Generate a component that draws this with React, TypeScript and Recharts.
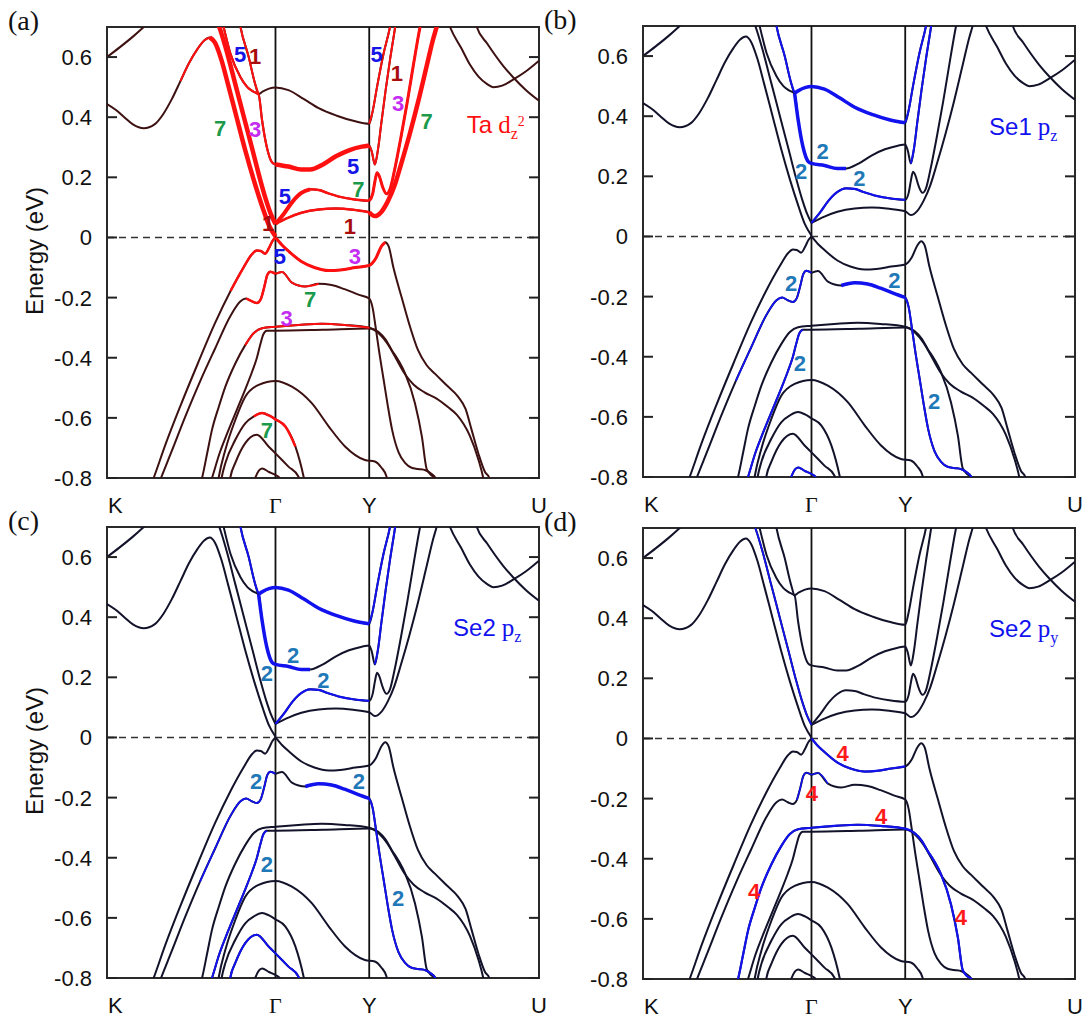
import React from "react";
import { LineChart, Line, XAxis, YAxis, ReferenceLine, ReferenceArea, ReferenceDot } from "recharts";

type Pt = [number, number];

// k-path positions of the high-symmetry points (K = 0, U = 1)
const GAMMA = 0.39;
const YPT = 0.607;
const kTicks = [0, GAMMA, YPT, 1];
const kLabels = ["K", "Γ", "Y", "U"];
const eTicks = [-0.8, -0.6, -0.4, -0.2, 0, 0.2, 0.4, 0.6];

// band lines, [k, energy in eV]
const U1: Pt[] = [[0, 0.6], [0.03, 0.633], [0.06, 0.668], [0.085, 0.7], [0.1, 0.72]];
const PK: Pt[] = [[0, 0.444], [0.02, 0.425], [0.04, 0.4], [0.06, 0.376], [0.085, 0.363], [0.11, 0.376], [0.13, 0.41], [0.15, 0.46], [0.17, 0.52], [0.19, 0.58], [0.21, 0.628], [0.225, 0.655], [0.238, 0.665], [0.25, 0.648], [0.265, 0.59], [0.28, 0.51], [0.3, 0.4], [0.32, 0.29], [0.34, 0.19], [0.36, 0.1], [0.375, 0.04], [0.39, 0.003]];
const L2: Pt[] = [[0.252, 0.73], [0.26, 0.7], [0.277, 0.62], [0.297, 0.51], [0.317, 0.4], [0.337, 0.29], [0.355, 0.19], [0.368, 0.125], [0.38, 0.075], [0.39, 0.045]];
const L2R: Pt[] = [[0.39, 0.045], [0.41, 0.08], [0.43, 0.12], [0.45, 0.148], [0.47, 0.16], [0.49, 0.158], [0.51, 0.148], [0.54, 0.135], [0.57, 0.127], [0.607, 0.122], [0.615, 0.145], [0.62, 0.185], [0.625, 0.215], [0.63, 0.205], [0.638, 0.168], [0.647, 0.145], [0.655, 0.16], [0.665, 0.22], [0.68, 0.33], [0.695, 0.45], [0.71, 0.58], [0.722, 0.68], [0.73, 0.74]];
const V1R: Pt[] = [[0.39, 0.045], [0.42, 0.066], [0.45, 0.082], [0.49, 0.093], [0.53, 0.096], [0.57, 0.092], [0.607, 0.084], [0.62, 0.071], [0.635, 0.085], [0.65, 0.12], [0.665, 0.17], [0.68, 0.24], [0.7, 0.34], [0.72, 0.45], [0.74, 0.57], [0.755, 0.66], [0.763, 0.7], [0.77, 0.74]];
const BK: Pt[] = [[0.262, 0.75], [0.27, 0.7], [0.286, 0.61], [0.309, 0.533], [0.325, 0.5], [0.338, 0.486], [0.351, 0.475], [0.359, 0.389], [0.37, 0.3], [0.382, 0.25], [0.39, 0.243], [0.42, 0.236], [0.45, 0.226], [0.47, 0.226], [0.5, 0.243], [0.53, 0.27], [0.56, 0.29], [0.59, 0.302], [0.607, 0.306], [0.613, 0.285], [0.62, 0.243], [0.627, 0.29], [0.635, 0.38], [0.645, 0.49], [0.655, 0.59], [0.667, 0.7], [0.672, 0.75]];
const BT: Pt[] = [[0.303, 0.75], [0.309, 0.7], [0.328, 0.6], [0.343, 0.51], [0.351, 0.477], [0.36, 0.485], [0.375, 0.495], [0.39, 0.499], [0.42, 0.49], [0.455, 0.461], [0.49, 0.43], [0.532, 0.405], [0.57, 0.388], [0.607, 0.378], [0.615, 0.42], [0.625, 0.5], [0.64, 0.61], [0.655, 0.7], [0.66, 0.74]];
const RU1: Pt[] = [[0.78, 0.76], [0.794, 0.7], [0.82, 0.63], [0.84, 0.575], [0.86, 0.535], [0.88, 0.51], [0.894, 0.5], [0.915, 0.505], [0.94, 0.525], [0.97, 0.553], [1, 0.588]];
const RU2: Pt[] = [[0.845, 0.76], [0.856, 0.7], [0.88, 0.645], [0.917, 0.571], [0.94, 0.533], [0.97, 0.49], [1, 0.455]];
const V1L: Pt[] = [[0.1, -0.83], [0.108, -0.8], [0.135, -0.69], [0.17, -0.56], [0.21, -0.42], [0.25, -0.285], [0.286, -0.178], [0.316, -0.1], [0.336, -0.055], [0.347, -0.043], [0.356, -0.045], [0.366, -0.054], [0.375, -0.035], [0.383, -0.012], [0.39, 0]];
const V2L: Pt[] = [[0.117, -0.83], [0.125, -0.8], [0.15, -0.71], [0.18, -0.6], [0.215, -0.48], [0.25, -0.37], [0.286, -0.26], [0.309, -0.212], [0.322, -0.203], [0.335, -0.212], [0.347, -0.218], [0.356, -0.205], [0.364, -0.165], [0.371, -0.125], [0.378, -0.114], [0.39, -0.121]];
const R1: Pt[] = [[0.39, 0], [0.405, -0.025], [0.42, -0.045], [0.45, -0.08], [0.48, -0.1], [0.513, -0.11], [0.54, -0.108], [0.575, -0.1], [0.607, -0.093], [0.622, -0.07], [0.635, -0.03], [0.644, -0.016], [0.652, -0.03], [0.663, -0.1], [0.682, -0.199], [0.7, -0.29], [0.72, -0.375], [0.74, -0.425], [0.759, -0.453], [0.785, -0.49], [0.813, -0.53], [0.83, -0.57], [0.844, -0.64], [0.86, -0.72], [0.875, -0.78], [0.885, -0.8], [0.89, -0.83]];
const R2: Pt[] = [[0.39, -0.121], [0.405, -0.115], [0.428, -0.15], [0.459, -0.163], [0.49, -0.154], [0.52, -0.158], [0.55, -0.172], [0.582, -0.19], [0.607, -0.203], [0.615, -0.235], [0.622, -0.3], [0.63, -0.38], [0.64, -0.47], [0.65, -0.56], [0.66, -0.64], [0.675, -0.715], [0.69, -0.75], [0.705, -0.766], [0.72, -0.77], [0.737, -0.774], [0.75, -0.785], [0.76, -0.8], [0.765, -0.82]];
const VB3: Pt[] = [[0.214, -0.83], [0.22, -0.8], [0.232, -0.717], [0.243, -0.64], [0.259, -0.562], [0.274, -0.496], [0.297, -0.419], [0.32, -0.358], [0.34, -0.318], [0.359, -0.302], [0.39, -0.297], [0.45, -0.29], [0.497, -0.287], [0.55, -0.291], [0.607, -0.3], [0.628, -0.314], [0.645, -0.34], [0.659, -0.374], [0.675, -0.41], [0.69, -0.452], [0.713, -0.552], [0.729, -0.663], [0.74, -0.77], [0.75, -0.79], [0.76, -0.8], [0.765, -0.82]];
const VB4: Pt[] = [[0.236, -0.83], [0.243, -0.8], [0.26, -0.72], [0.28, -0.645], [0.3, -0.575], [0.32, -0.505], [0.335, -0.45], [0.347, -0.4], [0.355, -0.355], [0.362, -0.322], [0.37, -0.31], [0.39, -0.31], [0.5, -0.307], [0.607, -0.303], [0.63, -0.32], [0.65, -0.355], [0.67, -0.405], [0.69, -0.455], [0.71, -0.49], [0.735, -0.515], [0.763, -0.536], [0.79, -0.565], [0.81, -0.59], [0.84, -0.66], [0.86, -0.74], [0.871, -0.8], [0.875, -0.83]];
const V5: Pt[] = [[0.255, -0.83], [0.259, -0.795], [0.274, -0.706], [0.297, -0.607], [0.32, -0.53], [0.351, -0.49], [0.39, -0.477], [0.428, -0.496], [0.474, -0.551], [0.513, -0.628], [0.551, -0.695], [0.597, -0.74], [0.62, -0.745], [0.635, -0.765], [0.647, -0.795], [0.65, -0.83]];
const V6: Pt[] = [[0.262, -0.83], [0.266, -0.795], [0.274, -0.75], [0.297, -0.673], [0.32, -0.618], [0.34, -0.595], [0.359, -0.584], [0.375, -0.592], [0.39, -0.605], [0.413, -0.629], [0.436, -0.695], [0.455, -0.795], [0.46, -0.83]];
const V7: Pt[] = [[0.282, -0.83], [0.286, -0.795], [0.297, -0.75], [0.32, -0.684], [0.347, -0.656], [0.374, -0.695], [0.39, -0.718], [0.42, -0.762], [0.443, -0.795], [0.45, -0.83]];
const V8: Pt[] = [[0.338, -0.83], [0.343, -0.8], [0.359, -0.768], [0.375, -0.78], [0.39, -0.79], [0.4, -0.8], [0.41, -0.83]];

const BANDS: Record<string, Pt[]> = { U1, PK, L2, L2R, V1R, BK, BT, RU1, RU2, V1L, V2L, R1, R2, VB3, VB4, V5, V6, V7, V8 };

const RED = "#ff1010";
const BLUE = "#1212ee";
const C5 = "#1515e8";
const C1 = "#a80c0c";
const C7 = "#1a9a4a";
const C3 = "#c42cf2";
const C2 = "#1f78b8";
const C4 = "#ff1a1a";

// highlighted (projected) parts: band, from k, to k, colour, width
type Hl = [string, number, number, string, number];
const HL_A: Hl[] = [
  ["PK", 0.17, 0.238, RED, 2], ["PK", 0.238, 0.4, RED, 4.5], ["L2", 0, 1, RED, 4.5],
  ["BT", 0, 0.352, RED, 2], ["BT", 0.607, 1, RED, 2],
  ["BK", 0, 0.39, RED, 2.2], ["BK", 0.39, 0.607, RED, 4.5], ["BK", 0.607, 1, RED, 2],
  ["L2R", 0.39, 0.47, RED, 4], ["L2R", 0.47, 0.607, RED, 2.5], ["L2R", 0.607, 1, RED, 3],
  ["V1R", 0.39, 0.607, RED, 2.5], ["V1R", 0.607, 1, RED, 4.5],
  ["V1L", 0.286, 0.4, RED, 2.5], ["V2L", 0.32, 0.4, RED, 2.5],
  ["R1", 0.39, 0.645, RED, 3], ["R2", 0.39, 0.49, RED, 2],
  ["VB3", 0.3, 0.607, RED, 2], ["V6", 0.34, 0.44, RED, 2.5],
];
const HL_B: Hl[] = [
  ["BT", 0, 0.352, BLUE, 2], ["BT", 0.351, 0.607, BLUE, 3.5], ["BT", 0.607, 1, BLUE, 2],
  ["BK", 0.351, 0.47, BLUE, 3.5], ["BK", 0.62, 1, BLUE, 2],
  ["L2R", 0.39, 0.607, BLUE, 2.2], ["V2L", 0.2, 0.4, BLUE, 1.8],
  ["R2", 0.459, 0.607, BLUE, 3.5], ["R2", 0.607, 1, BLUE, 2],
  ["VB4", 0, 0.37, BLUE, 2], ["V8", 0, 1, BLUE, 2],
];
const HL_C: Hl[] = [
  ["BT", 0, 0.352, BLUE, 2], ["BT", 0.351, 0.607, BLUE, 3.5], ["BT", 0.607, 1, BLUE, 2],
  ["BK", 0.351, 0.47, BLUE, 3.5], ["BK", 0.62, 1, BLUE, 2],
  ["L2R", 0.39, 0.607, BLUE, 2.2], ["V2L", 0.2, 0.4, BLUE, 1.8],
  ["R2", 0.459, 0.607, BLUE, 3.5], ["R2", 0.607, 1, BLUE, 2],
  ["VB4", 0, 0.37, BLUE, 2], ["V7", 0, 1, BLUE, 2],
];
const HL_D: Hl[] = [
  ["L2", 0, 1, BLUE, 1.8], ["R1", 0.39, 0.607, BLUE, 2.2], ["VB3", 0, 1, BLUE, 2.2],
  ["V2L", 0.35, 0.4, BLUE, 1.6], ["R2", 0.39, 0.43, BLUE, 1.6],
];

// band labels: k, energy, text, colour
type Lb = [number, number, string, string];
const LB_A: Lb[] = [
  [0.308, 0.608, "5", C5], [0.343, 0.603, "1", C1], [0.262, 0.364, "7", C7], [0.343, 0.359, "3", C3],
  [0.412, 0.137, "5", C5], [0.373, 0.049, "1", C1], [0.4, -0.062, "5", C5],
  [0.624, 0.608, "5", C5], [0.671, 0.547, "1", C1], [0.674, 0.447, "3", C3], [0.74, 0.387, "7", C7],
  [0.57, 0.237, "5", C5], [0.582, 0.16, "7", C7], [0.562, 0.038, "1", C1], [0.574, -0.062, "3", C3],
  [0.47, -0.206, "7", C7], [0.416, -0.267, "3", C3], [0.37, -0.64, "7", C7],
];
const LB_B: Lb[] = [
  [0.416, 0.283, "2", C2], [0.366, 0.217, "2", C2], [0.501, 0.195, "2", C2], [0.343, -0.154, "2", C2],
  [0.582, -0.145, "2", C2], [0.363, -0.42, "2", C2], [0.674, -0.547, "2", C2],
];
const LB_C: Lb[] = [
  [0.431, 0.275, "2", C2], [0.37, 0.214, "2", C2], [0.501, 0.192, "2", C2], [0.345, -0.146, "2", C2],
  [0.583, -0.144, "2", C2], [0.37, -0.423, "2", C2], [0.674, -0.534, "2", C2],
];
const LB_D: Lb[] = [
  [0.462, -0.048, "4", C4], [0.391, -0.181, "4", C4], [0.551, -0.258, "4", C4],
  [0.257, -0.507, "4", C4], [0.736, -0.596, "4", C4],
];

const SANS = "'Liberation Sans', Arial, sans-serif";
const SERIF = "'Liberation Serif', 'Times New Roman', serif";
const PW = 432;
const PH = 451;

const toRows = (pts: Pt[]) => pts.map(([k, e]) => ({ k, e }));

const ETick = (p: any) => {
  const v = p.payload.value;
  return (
    <g>
      <text x={p.x - 15} y={p.y + 8} textAnchor="end" fontSize={22} fontFamily={SANS} fill="#111">
        {v === 0 ? "0" : v.toFixed(1)}
      </text>
      <line x1={p.x} x2={p.x + 10} y1={p.y} y2={p.y} stroke="#222" strokeWidth={2} />
      <line x1={p.x + PW - 10} x2={p.x + PW} y1={p.y} y2={p.y} stroke="#222" strokeWidth={2} />
    </g>
  );
};

const KTick = (p: any) => {
  const i = kTicks.indexOf(p.payload.value);
  const lab = kLabels[i] ?? "";
  return (
    <text x={p.x + (i === 0 ? 1 : 0)} y={p.y + 35} textAnchor={i === 0 ? "start" : "middle"}
      fontSize={22} fontFamily={lab === "Γ" ? SERIF : SANS} fill="#111">
      {lab}
    </text>
  );
};

const orbLabel = (head: string, orb: string, sub: string, sup: string, color: string) => (props: any) => {
  const { x, y } = props.viewBox;
  return (
    <text x={x} y={y} fill={color} fontSize={24} fontFamily={SANS}>
      {head}
      <tspan dx={6} fontFamily={SERIF} fontSize={25}>{orb}</tspan>
      <tspan dy={6} fontFamily={SERIF} fontSize={16}>{sub}</tspan>
      {sup ? <tspan dy={-13} fontFamily={SERIF} fontSize={14}>{sup}</tspan> : null}
    </text>
  );
};

type PanelProps = {
  left: number; top: number; base: string; hl: Hl[]; labels: Lb[];
  orb: [string, string, string, string, string]; tag: string; title: boolean;
};

function Panel({ left, top, base, hl, labels, orb, tag, title }: PanelProps) {
  const names = Object.keys(BANDS);
  return (
    <>
      <div style={{ position: "absolute", left: left - 99, top: top - 22, fontFamily: SERIF, fontSize: 28, color: "#111" }}>{tag}</div>
      {title && (
        <div style={{ position: "absolute", left: left - 72 - 70, top: top + 210, width: 140, textAlign: "center",
          transform: "rotate(-90deg)", fontFamily: SANS, fontSize: 24, color: "#111" }}>
          Energy (eV)
        </div>
      )}
      <div style={{ position: "absolute", left: left - 100, top: top - 10 }}>
        <LineChart width={100 + PW + 12} height={10 + PH + 45} margin={{ top: 10, right: 12, bottom: 0, left: 0 }}>
          <XAxis type="number" dataKey="k" domain={[0, 1]} ticks={kTicks} interval={0} allowDataOverflow
            tick={<KTick />} tickLine={false} axisLine={false} tickSize={0} tickMargin={0} height={45} />
          <YAxis type="number" domain={[-0.8, 0.7]} ticks={eTicks} interval={0} allowDataOverflow
            tick={<ETick />} tickLine={false} axisLine={false} tickSize={0} tickMargin={0} width={100} />
          <ReferenceLine x={GAMMA} stroke="#111" strokeWidth={1.8} />
          <ReferenceLine x={YPT} stroke="#111" strokeWidth={1.8} />
          <ReferenceLine y={0} stroke="#333" strokeWidth={1.4} strokeDasharray="7 5" />
          {names.map((n) => (
            <Line key={"b" + n} data={toRows(BANDS[n])} dataKey="e" type="monotone" stroke={base}
              strokeWidth={2} dot={false} activeDot={false} isAnimationActive={false} />
          ))}
          {hl.map(([n, a, b, c, w], i) => (
            <Line key={"h" + i} data={toRows(BANDS[n].filter(([k]) => k >= a && k <= b))} dataKey="e"
              type="monotone" stroke={c} strokeWidth={w} dot={false} activeDot={false} isAnimationActive={false} />
          ))}
          <ReferenceArea x1={0} x2={1} y1={-0.8} y2={0.7} fill="none" stroke="#2a2a2a" strokeWidth={2} />
          {labels.map(([k, e, t, c], i) => (
            <ReferenceDot key={"l" + i} x={k} y={e} r={0} fill="none" stroke="none"
              label={{ value: t, fill: c, fontSize: 22, fontWeight: 700, fontFamily: SANS, position: "center" }} />
          ))}
          <ReferenceDot x={orb[0] === "Ta" ? 0.833 : 0.801} y={orb[0] === "Ta" ? 0.349 : 0.336} r={0}
            fill="none" stroke="none" label={orbLabel(orb[0], orb[1], orb[2], orb[3], orb[4])} />
        </LineChart>
      </div>
    </>
  );
}

export default function App() {
  return (
    <div style={{ position: "absolute", left: 0, top: 0, width: 1089, height: 1023, background: "#fff", overflow: "hidden" }}>
      <Panel left={107} top={27} base="#3d1111" hl={HL_A} labels={LB_A} orb={["Ta", "d", "z", "2", RED]} tag="(a)" title />
      <Panel left={643} top={26} base="#12122a" hl={HL_B} labels={LB_B} orb={["Se1", "p", "z", "", BLUE]} tag="(b)" title={false} />
      <Panel left={107} top={527} base="#12122a" hl={HL_C} labels={LB_C} orb={["Se2", "p", "z", "", BLUE]} tag="(c)" title />
      <Panel left={643} top={528} base="#12122a" hl={HL_D} labels={LB_D} orb={["Se2", "p", "y", "", BLUE]} tag="(d)" title={false} />
    </div>
  );
}
